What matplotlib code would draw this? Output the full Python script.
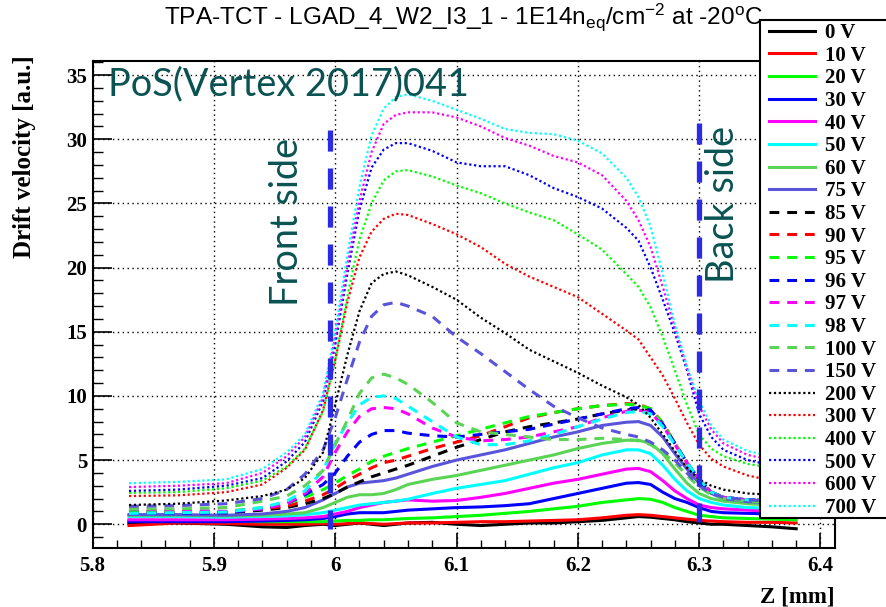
import matplotlib
matplotlib.use("Agg")
import matplotlib.pyplot as plt
from matplotlib import font_manager
from matplotlib.patches import Rectangle
from matplotlib.ticker import MultipleLocator

# ---------------------------------------------------------------- data
z_mm = [5.83, 5.87, 5.91, 5.94, 5.96, 5.975, 5.99, 6.00, 6.01, 6.02,
        6.03, 6.04, 6.05, 6.06, 6.08, 6.10, 6.12, 6.14, 6.16, 6.18,
        6.20, 6.22, 6.24, 6.25, 6.26, 6.27, 6.28, 6.29, 6.30, 6.31,
        6.32, 6.34, 6.36, 6.38]

bias_labels = ["0 V", "10 V", "20 V", "30 V", "40 V", "50 V", "60 V", "75 V",
               "85 V", "90 V", "95 V", "96 V", "97 V", "98 V", "100 V", "150 V",
               "200 V", "300 V", "400 V", "500 V", "600 V", "700 V"]

v_0 = [0.1, 0.1, 0.0, -0.2, -0.25, -0.1, 0.0, -0.1, 0.0, 0.1, 0.0, -0.1, 0.0, 0.1, 0.15, 0.0, -0.1, 0.0, 0.1, 0.1,
       0.2, 0.3, 0.5, 0.6, 0.55, 0.45, 0.35, 0.2, 0.1, 0.0, 0.0, -0.1, -0.2, -0.35]
v_10 = [-0.1, 0.1, 0.05, 0.0, 0.0, 0.0, 0.05, 0.0, 0.05, 0.1, 0.05, 0.0, 0.05, 0.1, 0.1, 0.15, 0.2, 0.2, 0.25, 0.3,
        0.35, 0.5, 0.7, 0.75, 0.7, 0.6, 0.5, 0.4, 0.3, 0.25, 0.2, 0.15, 0.15, 0.1]
v_20 = [0.3, 0.3, 0.25, 0.2, 0.2, 0.2, 0.2, 0.25, 0.3, 0.3, 0.35, 0.35, 0.4, 0.45, 0.5, 0.6, 0.7, 0.85, 1.0, 1.2,
        1.4, 1.7, 1.9, 2.0, 1.95, 1.7, 1.3, 1.0, 0.7, 0.6, 0.5, 0.45, 0.4, 0.35]
v_30 = [0.2, 0.2, 0.2, 0.25, 0.3, 0.35, 0.45, 0.6, 0.8, 0.9, 0.9, 0.9, 1.0, 1.1, 1.2, 1.3, 1.35, 1.45, 1.6, 2.0,
        2.4, 2.8, 3.2, 3.25, 3.1, 2.5, 2.0, 1.7, 1.3, 1.0, 0.9, 0.85, 0.8, 0.8]
v_40 = [0.35, 0.35, 0.35, 0.4, 0.45, 0.5, 0.6, 0.8, 1.0, 1.3, 1.5, 1.7, 1.8, 1.9, 1.8, 1.85, 2.1, 2.4, 2.8, 3.2,
        3.5, 3.9, 4.3, 4.35, 4.1, 3.4, 2.6, 2.0, 1.5, 1.3, 1.2, 1.1, 1.0, 1.0]
v_50 = [0.6, 0.6, 0.55, 0.6, 0.65, 0.75, 0.9, 1.1, 1.3, 1.5, 1.6, 1.7, 1.8, 1.95, 2.4, 2.8, 3.1, 3.4, 3.9, 4.4,
        4.8, 5.4, 5.8, 5.8, 5.5, 4.6, 3.5, 2.6, 2.0, 1.7, 1.5, 1.3, 1.25, 1.2]
v_60 = [0.7, 0.7, 0.65, 0.7, 0.8, 0.9, 1.3, 1.7, 2.1, 2.3, 2.3, 2.4, 2.7, 3.1, 3.5, 3.8, 4.2, 4.6, 5.0, 5.4,
        5.9, 6.3, 6.55, 6.55, 6.3, 5.5, 4.3, 3.2, 2.4, 2.0, 1.8, 1.6, 1.5, 1.5]
v_75 = [0.75, 0.75, 0.7, 0.8, 1.0, 1.3, 1.9, 2.4, 2.9, 3.2, 3.3, 3.4, 3.6, 3.9, 4.5, 5.0, 5.4, 5.8, 6.3, 6.8,
        7.2, 7.7, 7.95, 8.0, 7.7, 6.8, 5.5, 4.3, 3.2, 2.4, 2.0, 1.75, 1.7, 1.7]
v_85 = [1.0, 0.95, 0.9, 1.1, 1.3, 1.6, 2.0, 2.4, 2.9, 3.3, 3.7, 4.0, 4.3, 4.6, 5.3, 6.0, 6.6, 7.2, 7.6, 7.9,
        8.2, 8.6, 8.9, 9.0, 8.8, 7.8, 6.3, 4.8, 3.4, 2.5, 2.1, 1.9, 1.9, 1.85]
v_90 = [1.0, 1.0, 0.95, 1.2, 1.4, 1.8, 2.3, 2.8, 3.4, 3.9, 4.4, 4.8, 5.0, 5.3, 5.9, 6.4, 6.9, 7.6, 8.3, 8.7,
        9.0, 9.25, 9.4, 9.35, 9.0, 7.9, 6.3, 4.8, 3.4, 2.5, 2.1, 1.9, 1.9, 1.85]
v_95 = [1.0, 1.0, 1.0, 1.3, 1.6, 2.1, 2.7, 3.2, 3.8, 4.3, 4.9, 5.3, 5.6, 5.9, 6.4, 6.9, 7.4, 7.9, 8.4, 8.7,
        9.0, 9.25, 9.35, 9.3, 9.0, 7.9, 6.3, 4.8, 3.4, 2.5, 2.1, 1.9, 1.9, 1.85]
v_96 = [0.85, 0.85, 0.9, 1.2, 1.6, 2.3, 3.1, 4.0, 5.3, 6.4, 7.0, 7.3, 7.3, 7.1, 6.9, 6.8, 7.0, 7.2, 7.4, 7.8,
        8.2, 8.6, 9.0, 9.1, 8.9, 7.8, 6.3, 4.8, 3.5, 2.5, 2.1, 1.9, 1.85, 1.8]
v_97 = [1.2, 1.1, 1.0, 1.2, 1.6, 2.4, 3.7, 5.6, 7.2, 8.4, 9.0, 9.1, 9.0, 8.6, 7.5, 6.8, 6.5, 6.6, 6.8, 7.2,
        7.6, 8.3, 8.8, 8.9, 8.7, 7.7, 6.2, 4.8, 3.5, 2.5, 2.1, 1.9, 1.8, 1.8]
v_98 = [0.85, 0.9, 0.95, 1.3, 1.8, 2.6, 4.2, 6.3, 7.9, 9.3, 9.9, 10.0, 9.8, 9.2, 8.0, 6.8, 6.2, 6.2, 6.5, 7.0,
        7.6, 8.2, 8.7, 8.8, 8.6, 7.6, 6.2, 4.8, 3.5, 2.5, 2.1, 1.9, 1.8, 1.8]
v_100 = [1.2, 1.2, 1.3, 1.8, 2.2, 3.0, 4.2, 6.2, 8.1, 10.2, 11.4, 11.7, 11.4, 10.9, 9.5, 7.9, 7.2, 7.0, 6.8, 6.6,
         6.6, 6.7, 6.6, 6.5, 6.2, 5.6, 4.8, 3.8, 2.9, 2.3, 2.0, 1.8, 1.7, 1.7]
v_150 = [1.4, 1.45, 1.6, 2.0, 2.7, 3.9, 5.8, 8.3, 11.3, 14.2, 16.2, 17.1, 17.3, 17.0, 16.2, 14.6, 13.3, 11.9, 10.5, 9.2,
         8.3, 7.5, 7.0, 6.8, 6.4, 5.8, 5.0, 4.0, 3.0, 2.4, 2.1, 1.9, 1.8, 1.8]
v_200 = [1.5, 1.6, 1.85, 2.2, 2.7, 3.6, 5.6, 9.3, 13.2, 16.6, 18.8, 19.5, 19.7, 19.4, 18.5, 17.5, 16.1, 14.9, 13.6, 12.7,
         11.8, 10.8, 9.9, 9.3, 8.3, 7.0, 5.7, 4.4, 3.5, 3.0, 2.7, 2.4, 2.3, 2.2]
v_300 = [2.2, 2.25, 2.5, 3.1, 4.4, 5.8, 8.9, 12.8, 17.3, 20.8, 22.8, 23.8, 24.2, 24.1, 23.4, 22.6, 21.6, 20.3, 19.3, 18.5,
         17.7, 16.4, 15.1, 14.4, 13.0, 11.6, 9.8, 7.9, 6.2, 5.1, 4.5, 3.8, 3.4, 3.2]
v_400 = [2.45, 2.5, 2.8, 3.4, 4.5, 5.9, 8.8, 12.8, 17.8, 22.2, 25.0, 26.8, 27.5, 27.6, 27.1, 26.4, 25.8, 25.0, 24.3, 23.7,
         22.6, 21.4, 19.5, 18.5, 16.9, 14.6, 12.0, 9.3, 7.0, 5.9, 5.3, 4.7, 4.4, 4.2]
v_500 = [2.6, 2.7, 3.0, 3.6, 4.9, 6.4, 9.6, 14.0, 19.5, 24.5, 27.8, 29.2, 29.7, 29.7, 29.1, 28.2, 27.9, 27.9, 27.2, 26.2,
         25.5, 24.6, 23.1, 22.1, 20.0, 17.5, 14.9, 12.0, 8.6, 6.8, 5.8, 5.0, 4.6, 4.4]
v_600 = [2.9, 3.0, 3.2, 4.0, 5.3, 6.8, 9.9, 14.6, 20.2, 25.2, 29.0, 31.2, 31.9, 32.1, 32.1, 31.7, 31.0, 30.1, 29.5, 28.7,
         28.2, 27.2, 25.2, 23.7, 21.6, 18.5, 15.3, 12.2, 9.2, 7.4, 6.3, 5.4, 5.0, 4.8]
v_700 = [3.2, 3.3, 3.5, 4.3, 5.6, 7.0, 10.2, 15.0, 21.0, 26.3, 30.3, 32.4, 33.3, 33.5, 33.0, 32.3, 31.6, 30.8, 30.5, 30.4,
         29.9, 28.9, 27.0, 25.5, 23.2, 19.5, 15.6, 12.3, 9.6, 7.7, 6.6, 5.7, 5.3, 5.1]

velocities = [v_0, v_10, v_20, v_30, v_40, v_50, v_60, v_75,
              v_85, v_90, v_95, v_96, v_97, v_98, v_100, v_150,
              v_200, v_300, v_400, v_500, v_600, v_700]

# ---------------------------------------------------------------- style
palette = ["#000000", "#ff0000", "#00ff00", "#0000ff",
           "#ff00ff", "#00ffff", "#59d454", "#5954d9"]
colors = palette + palette + palette[:6]
styles = ["solid"] * 8 + ["dashed"] * 8 + ["dotted"] * 6

names = {f.name for f in font_manager.fontManager.ttflist}
title_font = "Liberation Sans Narrow" if "Liberation Sans Narrow" in names else "Liberation Sans"
label_font = "Liberation Serif"
note_font = "Lato" if "Lato" in names else "Open Sans"
teal = "#0b5353"

plt.rcParams["mathtext.fontset"] = "custom"
plt.rcParams["mathtext.rm"] = title_font
plt.rcParams["mathtext.it"] = title_font
plt.rcParams["mathtext.bf"] = title_font

W, H = 886, 607
fig = plt.figure(figsize=(W / 100, H / 100), dpi=100)
ax = fig.add_axes([92.6 / W, 1 - 548 / H, (835 - 92.6) / W, (548 - 61) / H])

lines = []
for vals, lab, col, sty in zip(velocities, bias_labels, colors, styles):
    if sty == "solid":
        ln, = ax.plot(z_mm, vals, color=col, lw=2.2, label=lab, solid_joinstyle="miter")
    elif sty == "dashed":
        ln, = ax.plot(z_mm, vals, color=col, lw=2.2, label=lab, dashes=(3.2, 2.6))
    else:
        ln, = ax.plot(z_mm, vals, color=col, lw=1.6, label=lab, dashes=(1.0, 1.2))
    lines.append(ln)

# front / back side markers
ax.plot([5.9957, 5.9957], [30.7, -0.4], color="#2b2be6", lw=3.8,
        dashes=(4.0, 3.2), dash_capstyle="butt", zorder=5)
ax.plot([6.300, 6.300], [31.3, 0.15], color="#2b2be6", lw=3.8,
        dashes=(4.0, 3.2), dash_capstyle="butt", zorder=5)

ax.set_xlim(5.8, 6.412)
ax.set_ylim(-1.85, 36.1)
ax.xaxis.set_major_locator(MultipleLocator(0.1))
ax.xaxis.set_minor_locator(MultipleLocator(0.02))
ax.yaxis.set_major_locator(MultipleLocator(5))
ax.yaxis.set_minor_locator(MultipleLocator(1))
ax.grid(True, which="major", color="black", lw=1.0, linestyle=(0, (1, 2.5)))
ax.set_axisbelow(True)

ax.tick_params(axis="x", which="major", direction="in", length=11, width=1.2, pad=6,
               top=False, labelsize=15)
ax.tick_params(axis="x", which="minor", direction="in", length=6, width=1.0, top=False)
ax.tick_params(axis="y", which="major", direction="in", length=14, width=1.2, pad=4,
               right=False, labelsize=15)
ax.tick_params(axis="y", which="minor", direction="in", length=7, width=1.0, right=False)
for lab in ax.get_xticklabels() + ax.get_yticklabels():
    lab.set_fontfamily(label_font)
    lab.set_fontweight("bold")
ax.xaxis.set_major_formatter(plt.FuncFormatter(lambda v, p: f"{v:g}"))
for sp in ax.spines.values():
    sp.set_linewidth(1.5)

fig.text(25 / W, 1 - 55 / H, "Drift velocity [a.u.]", rotation=90, ha="center", va="top",
         fontsize=18, fontweight="bold", family=label_font)
fig.text(835 / W, 1 - 597 / H, "Z [mm]", ha="right", va="center",
         fontsize=16.5, fontweight="bold", family=label_font)

fig.text(463 / W, 1 - 17 / H,
         r"TPA-TCT - LGAD_4_W2_I3_1 - 1E14n$_{\mathrm{eq}}$/cm$^{\mathrm{-2}}$ at -20$^{\mathrm{o}}$C",
         ha="center", va="center", fontsize=17.6, family=title_font)

fig.text(108 / W, 1 - 84 / H, "PoS(Vertex 2017)041", ha="left", va="center",
         fontsize=27.3, color=teal, family=note_font)
fig.text(287 / W, 1 - 222 / H, "Front side", rotation=90, ha="center", va="center",
         fontsize=27.3, color=teal, family=note_font)
fig.text(723 / W, 1 - 204 / H, "Back side", rotation=90, ha="center", va="center",
         fontsize=27.3, color=teal, family=note_font)

# legend box reaching the right edge of the canvas
fig.patches.append(Rectangle((760 / W, 1 - 518 / H), 0.2, (518 - 20) / H,
                             transform=fig.transFigure, facecolor="white",
                             edgecolor="black", lw=1.5, zorder=4))
leg = fig.legend(handles=lines, labels=bias_labels, loc="upper left",
                 bbox_to_anchor=(765 / W, 1 - 19 / H), frameon=False,
                 prop={"family": label_font, "weight": "bold", "size": 15},
                 handlelength=2.2, handletextpad=0.48, labelspacing=0.125,
                 borderpad=0.2, borderaxespad=0)
leg.set_zorder(6)

fig.savefig("out.png", dpi=100)
